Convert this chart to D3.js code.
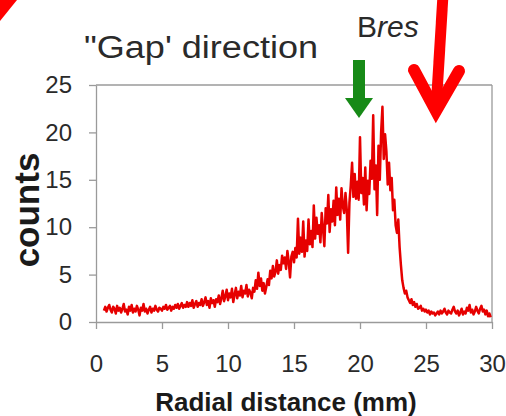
<!DOCTYPE html>
<html>
<head>
<meta charset="utf-8">
<script src="https://cdn.jsdelivr.net/npm/d3@7/dist/d3.min.js"></script>
<style>
  html, body { margin: 0; padding: 0; background: #fff; }
  svg { display: block; font-family: "Liberation Sans", Arial, sans-serif; }
</style>
</head>
<body>
<svg id="chart" width="506" height="416"></svg>
<script>
// ---- data ----
const xStart = 0.6;   // first radial distance (mm)
const xStep = 0.1;    // spacing between samples (mm)
const counts = [
  1.2, 1.6, 1.1, 1.5,
  1.8, 1.3, 1.0, 1.6, 1.4, 0.9, 1.7, 1.2, 1.5, 1.0,
  1.4, 1.9, 1.1, 1.3, 0.8, 1.6, 1.2, 1.8, 1.0, 1.4,
  1.1, 1.7, 1.3, 0.7, 1.5, 1.2, 1.9, 1.1, 1.4, 0.9,
  1.3, 1.6, 1.0, 1.4, 1.2, 1.7, 1.3, 1.1, 1.5, 1.4,
  1.2, 1.6, 1.4, 1.8, 1.3, 1.5, 1.7, 1.2, 1.6, 1.4,
  1.8, 1.5, 1.9, 1.4, 1.7, 2.0, 1.5, 1.8, 1.6, 2.1,
  1.6, 2.0, 1.7, 2.3, 1.5, 1.9, 2.2, 1.6, 2.0, 1.8,
  2.4, 1.7, 2.1, 2.6, 1.8, 2.2, 1.5, 2.5, 2.0, 2.3,
  1.6, 2.4, 2.1, 2.8, 1.9, 2.5, 3.3, 2.2, 2.7, 3.4,
  2.3, 3.0, 2.6, 3.5, 2.1, 2.9, 3.6, 2.5, 3.2, 2.8,
  3.8, 2.6, 3.3, 3.0, 3.9, 2.7, 3.4, 3.1, 2.5, 3.6,
  3.2, 4.4, 3.5, 5.2, 3.8, 4.6, 3.3, 4.1, 3.0, 3.7,
  4.5, 3.9, 5.4, 4.6, 5.9, 4.8, 5.3, 6.5, 5.1, 6.0,
  5.5, 7.0, 6.2, 6.8, 5.6, 7.5, 6.4, 4.7, 6.9, 7.4,
  6.3, 7.8, 6.8, 10.9, 7.2, 8.9, 7.4, 10.6, 6.9, 8.6,
  7.5, 10.8, 8.2, 9.6, 7.9, 12.3, 8.8, 11.0, 9.3, 10.2,
  8.4, 11.5, 9.8, 8.0, 12.0, 10.4, 13.4, 9.5, 11.9, 10.6,
  12.8, 10.2, 14.2, 11.3, 13.0, 10.8, 14.1, 12.2, 11.5, 13.6,
  11.8, 7.3, 12.6, 14.4, 16.8, 13.2, 15.6, 13.0, 14.8, 12.9,
  19.5, 13.6, 15.2, 12.4, 16.3, 11.8, 14.9, 13.5, 17.0, 15.1,
  21.8, 14.0, 16.5, 11.3, 18.6, 15.0, 20.0, 22.7, 17.2, 19.8,
  18.0, 14.5, 16.8, 13.9, 15.2, 11.8, 12.9, 10.2, 9.4, 10.8,
  7.9, 6.0, 4.4, 3.6, 3.0, 3.3, 2.6, 2.3, 2.0, 2.4,
  1.8, 2.1, 1.6, 1.9, 1.4, 1.5, 1.7, 1.2, 1.4, 1.1,
  1.3, 1.0, 1.2, 0.8, 1.1, 0.9, 1.0, 0.7, 0.9, 1.1,
  0.8, 1.2, 0.9, 1.1, 1.4, 1.0, 0.8, 1.2, 1.0, 0.9,
  1.3, 1.6, 1.1, 0.9, 1.2, 0.7, 1.0, 1.4, 0.8, 1.1,
  0.9, 1.5, 1.2, 1.8, 1.0, 1.3, 0.8, 1.1, 1.6, 1.2,
  0.9, 1.4, 1.7, 1.1, 1.3, 0.8, 1.2, 0.6, 0.9, 0.5
];
const xTicks = [0, 5, 10, 15, 20, 25, 30];
const yTicks = [0, 5, 10, 15, 20, 25];
const xTitle = "Radial distance (mm)";
const yTitle = "counts";
const panelTitle = "\"Gap' direction";
const markerLabelMain = "B";
const markerLabelSub = "res";
const markerPosition = 20; // mm, Bres arrow

// ---- drawing ----
const svg = d3.select("#chart");
const x = d3.scaleLinear().domain([0, 30]).range([96, 492]);
const y = d3.scaleLinear().domain([0, 25]).range([322, 85]);
const axisColor = "#9a9a9a";
const textColor = "#2a2a2a";

// frame: top & right
svg.append("line").attr("x1", x(0)).attr("x2", x(30)).attr("y1", y(25)).attr("y2", y(25))
  .attr("stroke", axisColor).attr("stroke-width", 1.3);
svg.append("line").attr("x1", x(30)).attr("x2", x(30)).attr("y1", y(25)).attr("y2", y(0))
  .attr("stroke", axisColor).attr("stroke-width", 1.3);

// y axis
const gy = svg.append("g").attr("transform", `translate(${x(0)},0)`)
  .call(d3.axisLeft(y).tickValues(yTicks).tickSize(7).tickSizeOuter(0).tickPadding(17));
gy.select(".domain").attr("stroke", axisColor).attr("stroke-width", 1.3);
gy.selectAll(".tick line").attr("stroke", axisColor).attr("stroke-width", 1.3);
gy.selectAll(".tick text").attr("font-size", 24).attr("fill", textColor)
  .attr("font-family", "Liberation Sans, Arial, sans-serif");

// x axis
const gx = svg.append("g").attr("transform", `translate(0,${y(0)})`)
  .call(d3.axisBottom(x).tickValues(xTicks).tickSize(7).tickSizeOuter(0).tickPadding(26));
gx.select(".domain").attr("stroke", axisColor).attr("stroke-width", 1.3);
gx.selectAll(".tick line").attr("stroke", axisColor).attr("stroke-width", 1.3);
gx.selectAll(".tick text").attr("font-size", 24).attr("fill", textColor)
  .attr("font-family", "Liberation Sans, Arial, sans-serif");

// data line
const line = d3.line()
  .x((d, i) => x(xStart + i * xStep))
  .y(d => y(d));
svg.append("path").datum(counts)
  .attr("d", line)
  .attr("fill", "none")
  .attr("stroke", "#e60000")
  .attr("stroke-width", 2.5)
  .attr("stroke-linejoin", "round");

// axis titles
svg.append("text").attr("x", 286).attr("y", 411)
  .attr("text-anchor", "middle").attr("font-size", 26).attr("font-weight", "bold")
  .attr("fill", "#1a1a1a").text(xTitle);
svg.append("text").attr("transform", "translate(39,210) rotate(-90)")
  .attr("text-anchor", "middle").attr("font-size", 35).attr("font-weight", "bold")
  .attr("fill", "#1a1a1a").text(yTitle);

// panel title
svg.append("text").attr("x", 84).attr("y", 58)
  .attr("font-size", 31).attr("fill", textColor)
  .attr("textLength", 234).attr("lengthAdjust", "spacingAndGlyphs")
  .text(panelTitle);

// Bres label
const bres = svg.append("text").attr("x", 357).attr("y", 37)
  .attr("font-size", 30).attr("fill", textColor);
bres.append("tspan").text(markerLabelMain);
bres.append("tspan").attr("font-style", "italic").text(markerLabelSub);

// green arrow at Bres
const gxp = x(markerPosition) - 1;
svg.append("rect").attr("x", gxp - 6).attr("y", 60).attr("width", 12).attr("height", 40)
  .attr("fill", "#178a17");
svg.append("path")
  .attr("d", `M${gxp - 14},98 L${gxp + 14},98 L${gxp},118 Z`)
  .attr("fill", "#178a17");

// red decorative arrows
svg.append("path").attr("d", "M0,0 L17,0 L0,21 Z").attr("fill", "#ff0000");
svg.append("line").attr("x1", 443).attr("y1", -5).attr("x2", 436).attr("y2", 110)
  .attr("stroke", "#ff0000").attr("stroke-width", 11);
svg.append("path").attr("d", "M414,70 L436,111 L459,71")
  .attr("fill", "none").attr("stroke", "#ff0000").attr("stroke-width", 12)
  .attr("stroke-linecap", "round").attr("stroke-linejoin", "miter").attr("stroke-miterlimit", 10);
</script>
</body>
</html>
